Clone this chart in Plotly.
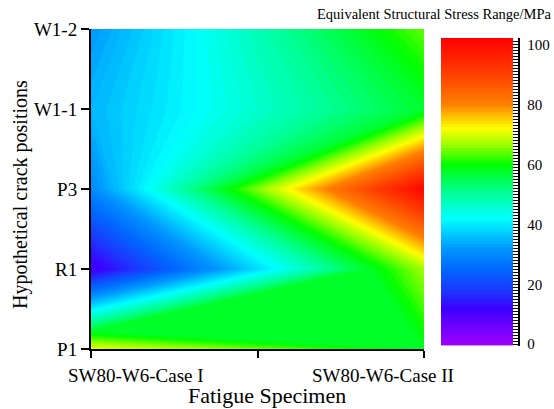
import plotly.graph_objects as go

# Equivalent structural stress range (MPa) at each hypothetical crack position
specimens = ["SW80-W6-Case I", "SW80-W6-Case II"]
positions = ["P1", "R1", "P3", "W1-1", "W1-2"]
stress_case_1 = [71, 10, 30, 35, 32]
stress_case_2 = [58, 67, 101, 57, 64]

# contour levels (MPa) and colour-bar labelling
level_start, level_end, level_step = 0, 102, 1
cbar_label_step = 20

# rainbow palette (value in MPa -> colour)
palette = [
    (0, "#9a00ff"), (6, "#6a00ff"), (12, "#3a00ff"), (18, "#1c38ff"),
    (25, "#0068ff"), (32, "#0098ff"), (42, "#00ffff"), (51, "#00ff90"),
    (60, "#00ff00"), (66, "#90ff00"), (72, "#ffff00"), (80, "#ff8000"),
    (90, "#ff4000"), (102, "#ff0000"),
]
zmin, zmax = level_start, level_end
colorscale = [[(v - zmin) / (zmax - zmin), c] for v, c in palette]

x_idx = list(range(len(specimens)))
y_idx = list(range(len(positions)))
z = [[a, b] for a, b in zip(stress_case_1, stress_case_2)]
levels = list(range(level_start, level_end + 1, level_step))

# page geometry (pixels)
W, H = 554, 409
L, R, T, B = 91, 0, 29, 60
PLOT_RIGHT = 424            # right edge of the contour panel
BAR_LEFT, BAR_RIGHT = 441, 513
BAR_TOP, BAR_BOTTOM = 38, 346
BAR_AXIS_X = 518.5
FONT = "Liberation Serif"

paper_w = W - L - R
paper_h = H - T - B
def px_to_paper_x(px):
    return (px - L) / paper_w
def px_to_paper_y(py):
    return (H - B - py) / paper_h

fig = go.Figure()

# stress field
fig.add_trace(go.Contour(
    x=x_idx, y=y_idx, z=z,
    colorscale=colorscale, zmin=zmin, zmax=zmax, zauto=False,
    contours=dict(start=level_start, end=level_end, size=level_step,
                  coloring="fill", showlines=False),
    line=dict(width=0, smoothing=0),
    showscale=False,
    xaxis="x", yaxis="y",
))

# colour bar drawn as a one-column strip of the contour levels
fig.add_trace(go.Heatmap(
    x=[0], y=levels, z=[[v] for v in levels],
    colorscale=colorscale, zmin=zmin, zmax=zmax, zauto=False,
    showscale=False, hoverinfo="skip",
    xaxis="x2", yaxis="y2",
))

# specimen labels under the x axis
shifts = [45, -41]
for i, name in enumerate(specimens):
    fig.add_annotation(x=x_idx[i], xref="x", y=0, yref="paper",
                       text=name, showarrow=False, xshift=shifts[i],
                       yanchor="top", yshift=-14,
                       font=dict(family=FONT, size=19, color="black"))

# axis titles
fig.add_annotation(x=(x_idx[0] + x_idx[-1]) / 2, xref="x", xshift=9, y=0, yref="paper",
                   yanchor="top", yshift=-32,
                   text="Fatigue Specimen", showarrow=False,
                   font=dict(family=FONT, size=22, color="black"))
fig.add_annotation(x=px_to_paper_x(20.5), xref="paper", xanchor="center",
                   y=px_to_paper_y(194.5), yref="paper", yanchor="middle",
                   text="Hypothetical crack positions", textangle=-90, showarrow=False,
                   font=dict(family=FONT, size=20, color="black"))

# colour bar title
fig.add_annotation(x=px_to_paper_x(554), xref="paper", xanchor="right",
                   y=px_to_paper_y(14), yref="paper", yanchor="middle",
                   text="Equivalent Structural Stress Range/MPa", showarrow=False,
                   font=dict(family=FONT, size=14.5, color="black"))

fig.update_layout(
    width=W, height=H,
    margin=dict(l=L, r=R, t=T, b=B, pad=0),
    paper_bgcolor="white", plot_bgcolor="white",
    font=dict(family=FONT, color="black"),
    showlegend=False,
    xaxis=dict(
        domain=[0, px_to_paper_x(PLOT_RIGHT)],
        range=[x_idx[0], x_idx[-1]],
        tickvals=[0, 0.5, 1], ticktext=["", "", ""],
        ticks="outside", ticklen=7, tickwidth=2, tickcolor="black",
        showline=True, linewidth=2, linecolor="black",
        showgrid=False, zeroline=False,
    ),
    yaxis=dict(
        range=[y_idx[0], y_idx[-1]],
        tickvals=y_idx, ticktext=positions,
        ticks="outside", ticklen=8, tickwidth=2, tickcolor="black",
        showline=True, linewidth=2, linecolor="black",
        showgrid=False, zeroline=False,
        tickfont=dict(family=FONT, size=19, color="black"),
    ),
    xaxis2=dict(
        domain=[px_to_paper_x(BAR_LEFT), px_to_paper_x(BAR_RIGHT)],
        range=[-0.5, 0.5], anchor="y2", visible=False,
    ),
    yaxis2=dict(
        domain=[px_to_paper_y(BAR_BOTTOM), px_to_paper_y(BAR_TOP)],
        range=[-0.6, 102.3],
        anchor="free", position=px_to_paper_x(BAR_AXIS_X), side="right",
        tick0=0, dtick=cbar_label_step,
        ticks="inside", ticklen=5, tickwidth=1, tickcolor="black",
        minor=dict(dtick=level_step, ticks="inside", ticklen=5,
                   tickwidth=1, tickcolor="black", showgrid=False),
        showline=True, linewidth=1.5, linecolor="black",
        showgrid=False, zeroline=False,
        ticklabelstandoff=5,
        tickfont=dict(family=FONT, size=15, color="black"),
    ),
)

fig.write_html("out.html")
